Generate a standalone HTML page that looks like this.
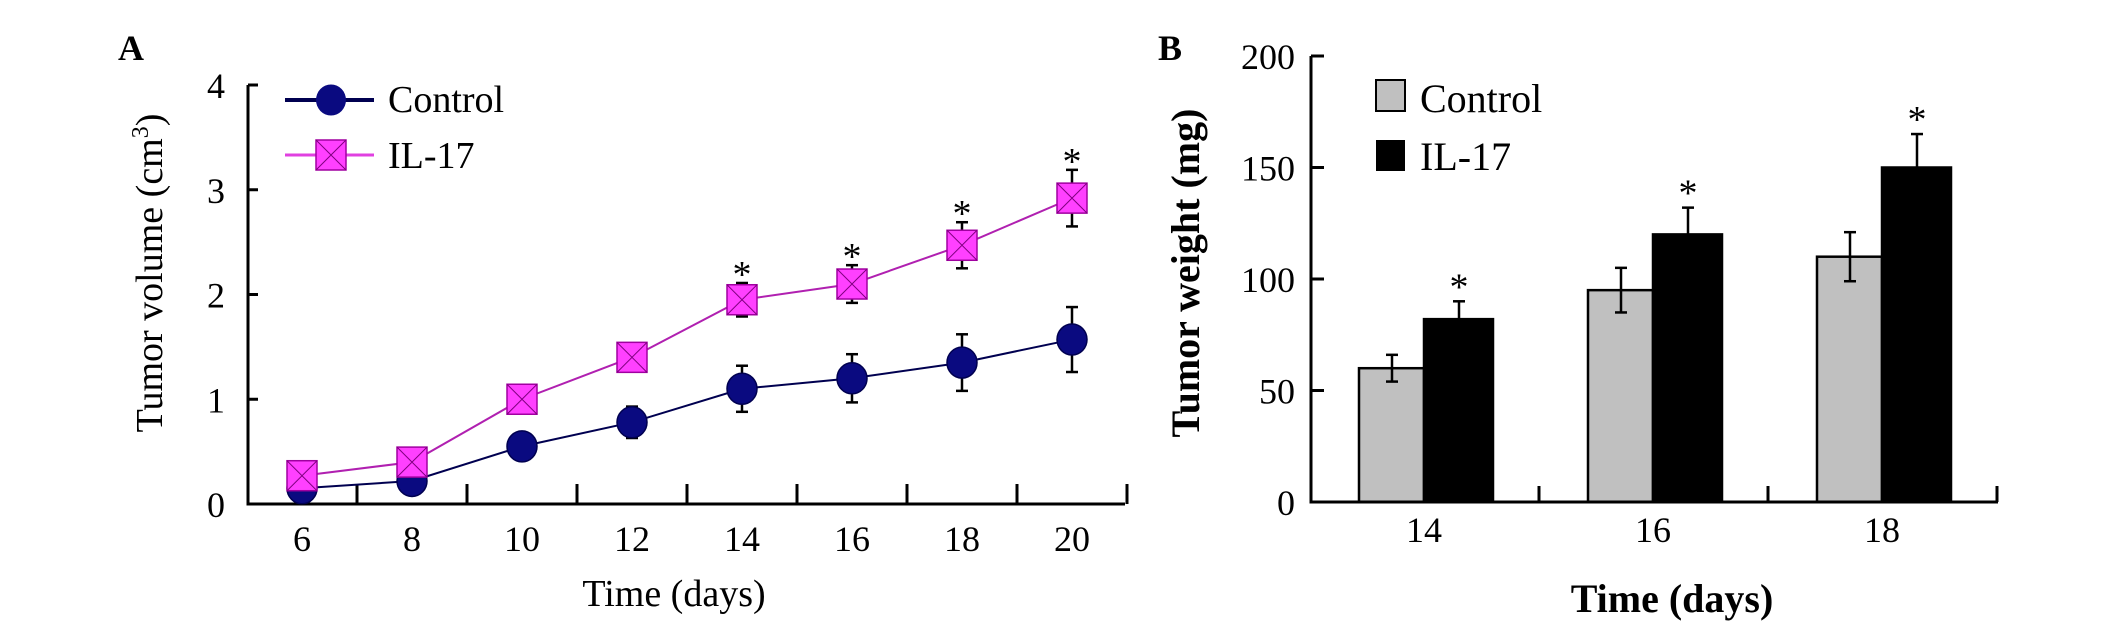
<!DOCTYPE html>
<html><head><meta charset="utf-8"><style>
html,body{margin:0;padding:0;background:#fff;}
svg{display:block;font-family:"Liberation Serif",serif;}
</style></head><body>
<svg id="fig" width="2126" height="626" viewBox="0 0 2126 626" xmlns="http://www.w3.org/2000/svg"></svg>
<script>
// Panel A data
const daysA = [6, 8, 10, 12, 14, 16, 18, 20];
const controlA = [0.15, 0.22, 0.55, 0.78, 1.1, 1.2, 1.35, 1.57];
const controlErrA = [0, 0, 0, 0.15, 0.22, 0.23, 0.27, 0.31];
const il17A = [0.27, 0.4, 1.0, 1.4, 1.95, 2.1, 2.47, 2.92];
const il17ErrA = [0, 0, 0, 0, 0.16, 0.18, 0.22, 0.27];
const starsA = [false, false, false, false, true, true, true, true];
const yTicksA = [0, 1, 2, 3, 4];
// Panel B data
const daysB = ["14", "16", "18"];
const controlB = [60, 95, 110];
const controlErrB = [6, 10, 11];
const il17B = [82, 120, 150];
const il17ErrB = [8, 12, 15];
const yTicksB = [0, 50, 100, 150, 200];

const NS = "http://www.w3.org/2000/svg";
const svg = document.getElementById("fig");
function mk(tag, attrs, parent, text) {
  const e = document.createElementNS(NS, tag);
  for (const k in attrs) e.setAttribute(k, attrs[k]);
  if (text !== undefined) e.textContent = text;
  (parent || svg).appendChild(e);
  return e;
}
// ---------- Panel A ----------
const xA = d => 302 + (d - 6) * 55;
const yA = v => 504 - v * 104.75;
const gA = mk("g", {});


let t = mk("text", {x: 118, y: 60, "font-size": 36, "font-weight": "bold"}, gA, "A");


let ax = mk("path", {d: `M248 ${yA(4)} V504 H1125`, fill: "none", stroke: "#000", "stroke-width": 3}, gA);


yTicksA.forEach(v => {
  mk("line", {x1: 248, x2: 258, y1: yA(v), y2: yA(v), stroke: "#000", "stroke-width": 3}, gA);
  const l = mk("text", {x: 225, y: yA(v) + 13, "font-size": 36, "text-anchor": "end"}, gA, String(v));
  
  
});
for (let d = 7; d <= 21; d += 2) mk("line", {x1: xA(d), x2: xA(d), y1: 504, y2: 484, stroke: "#000", "stroke-width": 3}, gA);
daysA.forEach(d => {
  const l = mk("text", {x: xA(d), y: 551, "font-size": 36, "text-anchor": "middle"}, gA, String(d));
  
  
});
t = mk("text", {x: 674, y: 606, "font-size": 38, "text-anchor": "middle"}, gA, "Time (days)");


t = mk("text", {transform: "translate(162,273) rotate(-90)", "font-size": 38, "text-anchor": "middle"}, gA);


mk("tspan", {}, t, "Tumor volume (cm");
mk("tspan", {"font-size": 24, dy: -14}, t, "3");
mk("tspan", {dy: 14}, t, ")");
mk("polyline", {points: daysA.map((d, i) => `${xA(d)},${yA(controlA[i])}`).join(" "), fill: "none", stroke: "#000050", "stroke-width": 2}, gA);
mk("polyline", {points: daysA.map((d, i) => `${xA(d)},${yA(il17A[i])}`).join(" "), fill: "none", stroke: "#b020b0", "stroke-width": 2}, gA);
function errBar(g, x, v, e, yf, both) {
  if (!e) return;
  mk("line", {x1: x, x2: x, y1: yf(v + e), y2: both ? yf(v - e) : yf(v), stroke: "#000", "stroke-width": 2.5}, g);
  mk("line", {x1: x - 6, x2: x + 6, y1: yf(v + e), y2: yf(v + e), stroke: "#000", "stroke-width": 2.5}, g);
  if (both) mk("line", {x1: x - 6, x2: x + 6, y1: yf(v - e), y2: yf(v - e), stroke: "#000", "stroke-width": 2.5}, g);
}
daysA.forEach((d, i) => {
  errBar(gA, xA(d), controlA[i], controlErrA[i], yA, true);
  const c = mk("ellipse", {cx: xA(d), cy: yA(controlA[i]), rx: 15, ry: 15.5, fill: "#0a0a80", stroke: "#000050", "stroke-width": 1.5}, gA);
  
  
});
daysA.forEach((d, i) => {
  errBar(gA, xA(d), il17A[i], il17ErrA[i], yA, true);
  const x = xA(d), y = yA(il17A[i]);
  const r = mk("rect", {x: x - 15, y: y - 15, width: 30, height: 30, fill: "#ff40ff", stroke: "#a000a0", "stroke-width": 1.5}, gA);
  
  
  mk("path", {d: `M${x-15} ${y-15}L${x+15} ${y+15}M${x+15} ${y-15}L${x-15} ${y+15}`, stroke: "#800080", "stroke-width": 1}, gA);
  if (starsA[i]) {
    const s = mk("text", {x: x, y: yA(il17A[i] + il17ErrA[i]) + 4, "font-size": 38, "text-anchor": "middle"}, gA, "*");
    
    
  }
});
const lgA = mk("g", {}, gA);


mk("line", {x1: 285, x2: 374, y1: 100, y2: 100, stroke: "#000050", "stroke-width": 4}, lgA);
mk("ellipse", {cx: 331, cy: 100, rx: 15, ry: 15.5, fill: "#0a0a80"}, lgA);
mk("text", {x: 388, y: 112, "font-size": 38}, lgA, "Control");
mk("line", {x1: 285, x2: 374, y1: 155, y2: 155, stroke: "#e040e0", "stroke-width": 3}, lgA);
mk("rect", {x: 316, y: 140, width: 30, height: 30, fill: "#ff40ff", stroke: "#a000a0", "stroke-width": 1.5}, lgA);
mk("path", {d: "M316 140L346 170M346 140L316 170", stroke: "#800080", "stroke-width": 1}, lgA);
mk("text", {x: 388, y: 168, "font-size": 38}, lgA, "IL-17");

// ---------- Panel B ----------
const yB = v => 502 - v * 2.23;
const cB = i => 1424 + i * 229;
const gB = mk("g", {});


t = mk("text", {x: 1158, y: 60, "font-size": 36, "font-weight": "bold"}, gB, "B");


yTicksB.forEach(v => {
  mk("line", {x1: 1311, x2: 1324, y1: yB(v), y2: yB(v), stroke: "#000", "stroke-width": 3}, gB);
  const l = mk("text", {x: 1295, y: yB(v) + 13, "font-size": 36, "text-anchor": "end"}, gB, String(v));
  
  
});
daysB.forEach((d, i) => {
  const x = cB(i);
  const b1 = mk("rect", {x: x - 65, y: yB(controlB[i]), width: 65, height: yB(0) - yB(controlB[i]), fill: "#c0c0c0", stroke: "#000", "stroke-width": 2.5}, gB);
  
  
  const b2 = mk("rect", {x: x, y: yB(il17B[i]), width: 69, height: yB(0) - yB(il17B[i]), fill: "#000", stroke: "#000", "stroke-width": 2.5}, gB);
  
  
  errBar(gB, x - 32, controlB[i], controlErrB[i], yB, true);
  errBar(gB, x + 35, il17B[i], il17ErrB[i], yB, false);
  const s = mk("text", {x: x + 35, y: yB(il17B[i] + il17ErrB[i]) - 2, "font-size": 38, "text-anchor": "middle"}, gB, "*");
  
  
  const l = mk("text", {x: x, y: 542, "font-size": 36, "text-anchor": "middle"}, gB, d);
  
  
  mk("line", {x1: x + 115, x2: x + 115, y1: 502, y2: 486, stroke: "#000", "stroke-width": 3}, gB);
});
ax = mk("path", {d: `M1311 56 V502 H1998`, fill: "none", stroke: "#000", "stroke-width": 3}, gB);


t = mk("text", {x: 1672, y: 612, "font-size": 40, "font-weight": "bold", "text-anchor": "middle"}, gB, "Time (days)");


t = mk("text", {transform: "translate(1199,273) rotate(-90)", "font-size": 40, "font-weight": "bold", "text-anchor": "middle"}, gB, "Tumor weight (mg)");


const lgB = mk("g", {}, gB);


mk("rect", {x: 1376, y: 80, width: 29, height: 31, fill: "#c0c0c0", stroke: "#000", "stroke-width": 2}, lgB);
mk("text", {x: 1420, y: 112, "font-size": 40}, lgB, "Control");
mk("rect", {x: 1376, y: 140, width: 29, height: 31, fill: "#000"}, lgB);
mk("text", {x: 1420, y: 170, "font-size": 40}, lgB, "IL-17");
</script>
</body></html>
